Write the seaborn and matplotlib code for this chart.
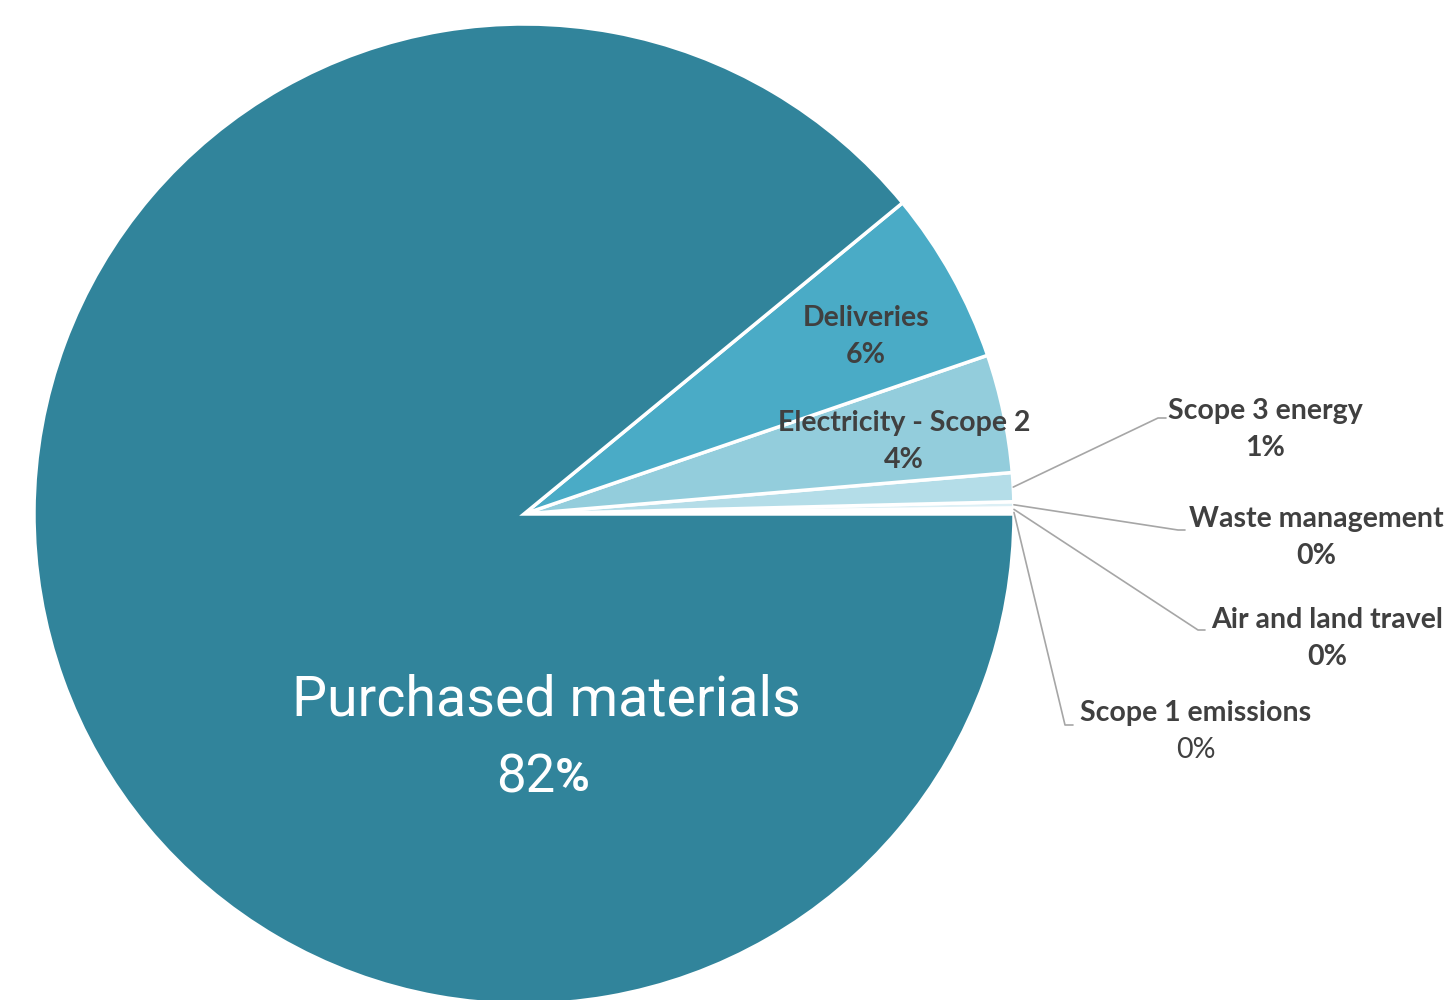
import numpy as np
import matplotlib
matplotlib.use("Agg")
import matplotlib.pyplot as plt
import seaborn as sns

# ---- data ----
categories = ["Scope 1 emissions", "Air and land travel", "Waste management",
              "Scope 3 energy", "Electricity - Scope 2", "Deliveries", "Purchased materials"]
shares = [0.1, 0.1, 0.2, 0.95, 3.9, 5.7, 89.05]
pct_labels = ["0%", "0%", "0%", "1%", "4%", "6%", "82%"]
colors = ["#dceff5", "#dceff5", "#dceff5", "#b4dde8", "#93cddc", "#4aabc6", "#31849b"]

sns.set_theme(style="white")
plt.rcParams["font.family"] = ["Lato", "DejaVu Sans"]

W, H, DPI = 1455, 1000, 100
R = 490.0
CX, CY = 524.0, 514.0
fig = plt.figure(figsize=(W / DPI, H / DPI), dpi=DPI)
ax = fig.add_axes([0, 0, 1, 1])

wedges, _ = ax.pie(shares, colors=colors, startangle=0, counterclock=True,
                   radius=1.0, center=(0, 0),
                   wedgeprops=dict(edgecolor="white", linewidth=2.5))
ax.set_xlim(-CX / R, (W - CX) / R)
ax.set_ylim(-(H - CY) / R, CY / R)
ax.set_aspect("equal")
ax.axis("off")


def px(x, y):
    return (x - CX) / R, (CY - y) / R


dark = "#404040"
lab_fs = 20.5

# inside labels
for name, pos in [("Deliveries", (866, 318)), ("Electricity - Scope 2", (904, 423))]:
    i = categories.index(name)
    x, y = px(*pos)
    ax.text(x, y, name, ha="center", va="center", fontsize=lab_fs,
            fontweight="bold", color=dark)
    x2, y2 = px(pos[0], pos[1] + 37)
    ax.text(x2, y2, pct_labels[i], ha="center", va="center", fontsize=lab_fs,
            fontweight="bold", color=dark)

# outside labels with leader lines
outside = {
    "Scope 3 energy": dict(text=(1265, 411), elbow=(1158, 418), end=(1166, 418)),
    "Waste management": dict(text=(1316, 519), elbow=(1178, 530), end=(1185, 530)),
    "Air and land travel": dict(text=(1327, 620), elbow=(1198, 630), end=(1205, 630)),
    "Scope 1 emissions": dict(text=(1196, 713), elbow=(1065, 725), end=(1073, 725)),
}
for name, d in outside.items():
    i = categories.index(name)
    w = wedges[i]
    mid = np.deg2rad((w.theta1 + w.theta2) / 2)
    sx, sy = np.cos(mid) * 1.0, np.sin(mid) * 1.0
    ex, ey = px(*d["elbow"])
    fx, fy = px(*d["end"])
    ax.plot([sx, ex, fx], [sy, ey, fy], color="#a6a6a6", linewidth=1.2, zorder=1)
    tx, ty = px(*d["text"])
    wt = "normal" if name == "Scope 1 emissions" else "bold"
    ax.text(tx, ty, name, ha="center", va="center", fontsize=lab_fs,
            fontweight="bold", color=dark)
    tx2, ty2 = px(d["text"][0], d["text"][1] + 37)
    ax.text(tx2, ty2, pct_labels[i], ha="center", va="center", fontsize=lab_fs,
            fontweight=wt, color=dark)

# main label
i = categories.index("Purchased materials")
x, y = px(546, 700)
ax.text(x, y, "Purchased materials", ha="center", va="center", fontsize=40,
        color="white", family=["Roboto", "DejaVu Sans"], fontweight="normal")
num = pct_labels[i].rstrip("%")
x, y = px(555, 778)
ax.text(x, y, num, ha="right", va="center", fontsize=38,
        color="white", family=["Roboto", "DejaVu Sans"], fontweight="normal")
ax.text(x, y, "%", ha="left", va="center", fontsize=34,
        color="white", family=["Roboto", "DejaVu Sans"], fontweight="bold")

fig.savefig("out.png", dpi=DPI, facecolor="white")
